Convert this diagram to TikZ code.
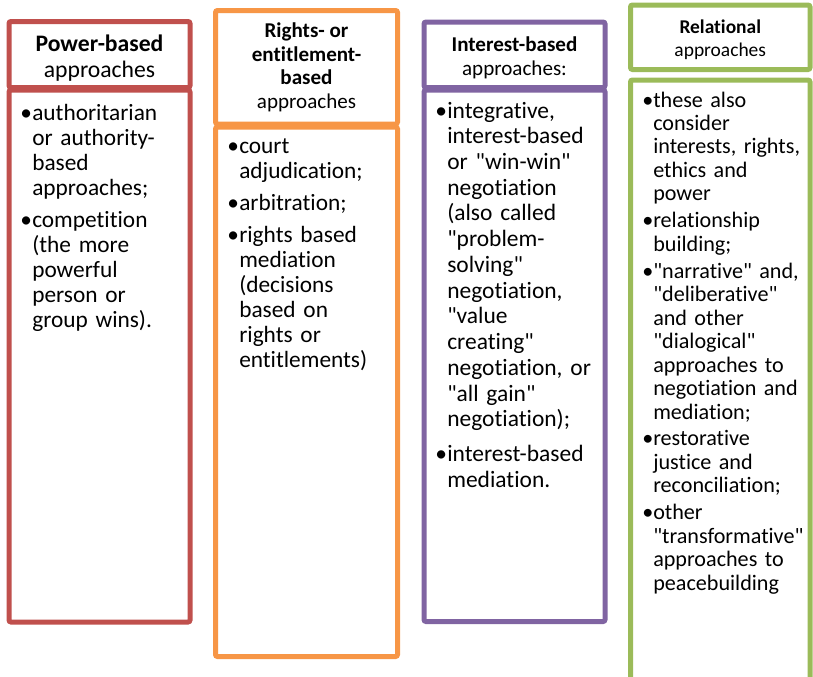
\documentclass[tikz,border=0pt]{standalone}
\usepackage{fontspec}
\setmainfont{Carlito}[Ligatures={TeXOff,CommonOff}]
\usetikzlibrary{positioning}
\definecolor{powerred}{HTML}{C0504D}
\definecolor{rightsorange}{HTML}{F79646}
\definecolor{interestpurple}{HTML}{8064A2}
\definecolor{relationgreen}{HTML}{9BBB59}
\newdimen\pxu \pxu=0.75pt
\newlength{\bulw}
\newcommand{\bulfirst}{\noindent\hangindent=\bulw\hangafter=1\hbox to\bulw{\textbullet\hfil}\ignorespaces}
\newcommand{\bul}{\par\bulfirst}
\newcommand{\headup}{\rule{0pt}{1.0em}}
\tikzset{
  colbox/.style={
    draw, line width=5\pxu, rounded corners=2\pxu, fill=white,
    inner sep=0pt, align=center
  },
  headbig/.style={font=\fontsize{17.75}{19.5}\selectfont},
  headmid/.style={font=\fontsize{15.8}{17.8}\selectfont},
  headsmall/.style={font=\fontsize{14.6}{17.25}\selectfont},
  bodytext/.style={
    anchor=base west, inner sep=0pt, align=left, text width=150pt,
    font=\fontsize{17.5}{18.75}\selectfont\setlength{\bulw}{9pt}\setlength{\parskip}{5.25pt}
  },
  bodywide/.style={
    bodytext,
    font=\fontsize{17.6}{19.3}\selectfont\setlength{\bulw}{9pt}\setlength{\parskip}{6.75pt}
  },
  bodysmall/.style={
    bodytext,
    font=\fontsize{16.6}{17.6}\selectfont\setlength{\bulw}{8.25pt}\setlength{\parskip}{2.6pt}
  },
}
\begin{document}
\begin{tikzpicture}[x=1\pxu, y=-1\pxu]
  \useasboundingbox (0,0) rectangle (813,676);

  % Power-based column
  \node[colbox, draw=powerred, minimum width=181\pxu, minimum height=532\pxu]
    (powerbody) at (99.5,356) {};
  \node[colbox, draw=powerred, headbig, minimum width=181\pxu, minimum height=66\pxu]
    (powerhead) at (99.5,54.5) {\headup\textbf{Power-based}\\approaches};
  \node[bodytext] (powertext) at (20,120) {%
    \bulfirst authoritarian\newline or authority-\newline based\newline approaches;
    \bul competition\newline (the more\newline powerful\newline person or\newline group wins).\par};

  % Rights-based column
  \node[colbox, draw=rightsorange, minimum width=182\pxu, minimum height=529.5\pxu]
    (rightsbody) at (306.5,391.75) {};
  \node[colbox, draw=rightsorange, headmid, minimum width=182\pxu, minimum height=113.5\pxu]
    (rightshead) at (306.5,67.25)
    {\textbf{Rights- or}\\\textbf{entitlement-}\\\textbf{based}\\approaches};
  \node[bodytext] (rightstext) at (227,153) {%
    \bulfirst court\newline adjudication;
    \bul arbitration;
    \bul rights based\newline mediation\newline (decisions\newline based on\newline rights or\newline entitlements)\par};

  % Interest-based column
  \node[colbox, draw=interestpurple, minimum width=181\pxu, minimum height=531.5\pxu]
    (interestbody) at (514.5,355.75) {};
  \node[colbox, draw=interestpurple, headmid, minimum width=181\pxu, minimum height=65.5\pxu]
    (interesthead) at (514.5,54.75) {\headup\textbf{Interest-based}\\approaches:};
  \node[bodywide] (interesttext) at (435,118) {%
    \bulfirst integrative,\newline interest-based\newline or "win-win"\newline negotiation\newline
    (also called\newline "problem-\newline solving"\newline negotiation,\newline "value\newline
    creating"\newline negotiation, or\newline "all gain"\newline negotiation);
    \bul interest-based\newline mediation.\par};

  % Relational column
  \node[colbox, draw=relationgreen, minimum width=179.5\pxu, minimum height=620\pxu]
    (relationbody) at (720.25,390) {};
  \node[colbox, draw=relationgreen, headsmall, minimum width=179.5\pxu, minimum height=64.5\pxu]
    (relationhead) at (720.25,37.25) {\headup\textbf{Relational}\\approaches};
  \node[bodysmall] (relationtext) at (642,107) {%
    \bulfirst these also\newline consider\newline interests, rights,\newline ethics and\newline power
    \bul relationship\newline building;
    \bul "narrative" and,\newline "deliberative"\newline and other\newline "dialogical"\newline
    approaches to\newline negotiation and\newline mediation;
    \bul restorative\newline justice and\newline reconciliation;
    \bul other\newline "transformative"\newline approaches to\newline peacebuilding\par};
\end{tikzpicture}
\end{document}
